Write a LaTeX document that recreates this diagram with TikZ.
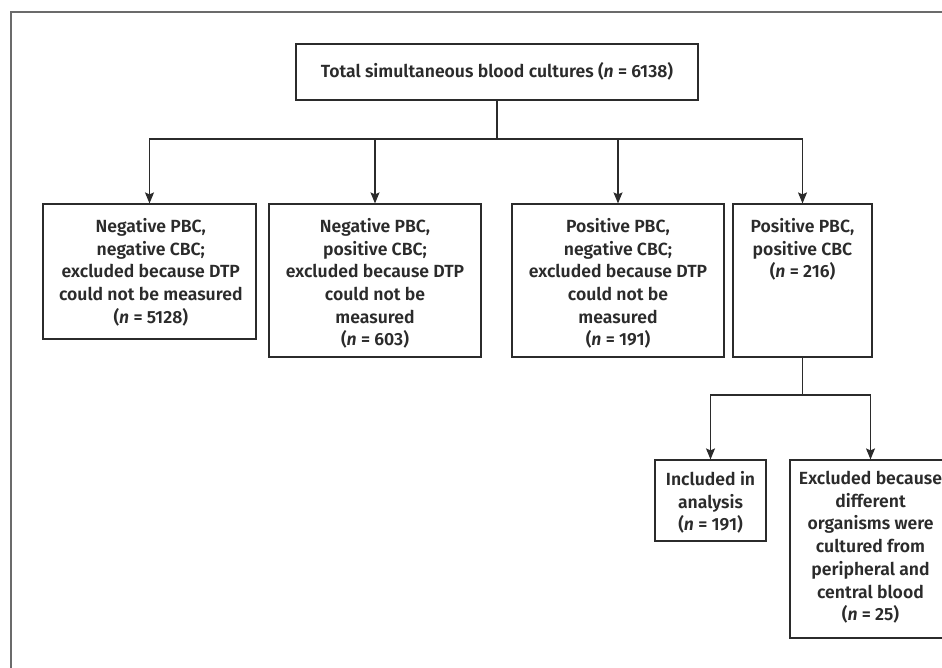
\documentclass[tikz,border=0pt]{standalone}
\usepackage{fontspec}
\setmainfont{Fira Sans}[BoldFont={Fira Sans SemiBold}, BoldItalicFont={Fira Sans SemiBold Italic}]
\usetikzlibrary{arrows.meta}
\definecolor{ink}{HTML}{2B2B2B}
\definecolor{framecol}{HTML}{6B6B6B}
\begin{document}
\begin{tikzpicture}[x=1pt,y=-1pt,
  box/.style={draw=ink, line width=1.2pt, inner sep=0pt, rectangle},
  lbl/.style={align=center, text=ink, inner sep=0pt, anchor=north,
    font=\bfseries\fontsize{17.6}{22.7}\selectfont},
  conn/.style={draw=ink, line width=1.1pt},
  arr/.style={conn, -{Stealth[length=11pt,width=9pt,inset=2pt]}}]
\useasboundingbox (0,0) rectangle (942,667);
% outer frame (partly cut off by the page)
\draw[framecol, line width=1.6pt] (11,690) -- (11,12) -- (970,12);

% top box
\node[box, minimum width=402pt, minimum height=56pt] (top) at (497,72) {};
\node[lbl, anchor=center] (ttop) at (497,71) {Total simultaneous blood cultures (\textit{n} = 6138)};

% first row boxes
\node[box, minimum width=213pt, minimum height=135pt] (b1) at (149.5,271.5) {};
\node[box, minimum width=212pt, minimum height=153pt] (b2) at (375,280.5) {};
\node[box, minimum width=212pt, minimum height=153pt] (b3) at (618,280.5) {};
\node[box, minimum width=139pt, minimum height=153pt] (b4) at (802.5,280.5) {};

\node[lbl] (t1) at (150.8,218) {Negative PBC,\\negative CBC;\\excluded because DTP\\could not be measured\\(\textit{n} = 5128)};
\node[lbl] (t2) at (375,218) {Negative PBC,\\positive CBC;\\excluded because DTP\\could not be\\measured\\(\textit{n} = 603)};
\node[lbl] (t3) at (618,218) {Positive PBC,\\negative CBC;\\excluded because DTP\\could not be\\measured\\(\textit{n} = 191)};
\node[lbl] (t4) at (802.5,218) {Positive PBC,\\positive CBC\\(\textit{n} = 216)};

% second row boxes
\node[box, minimum width=111pt, minimum height=81pt] (b5) at (710.5,500.5) {};
\node[box, minimum width=161pt, minimum height=178pt] (b6) at (870.5,549) {};

\node[lbl] (t5) at (710.5,471) {Included in\\analysis\\(\textit{n} = 191)};
\node[lbl] (t6) at (870.5,471) {Excluded because\\different\\organisms were\\cultured from\\peripheral and\\central blood\\(\textit{n} = 25)};

% connectors
\coordinate (j1) at (497,139);
\coordinate (j2) at (802.5,395);
\draw[conn] (top.south) -- (j1);
\draw[arr] (j1) -| (b1.north);
\draw[arr] (j1) -| (b2.north);
\draw[arr] (j1) -| (b3.north);
\draw[arr] (j1) -| (b4.north);
\draw[conn] (b4.south) -- (j2);
\draw[arr] (j2) -| (b5.north);
\draw[arr] (j2) -| (b6.north);
\end{tikzpicture}
\end{document}
